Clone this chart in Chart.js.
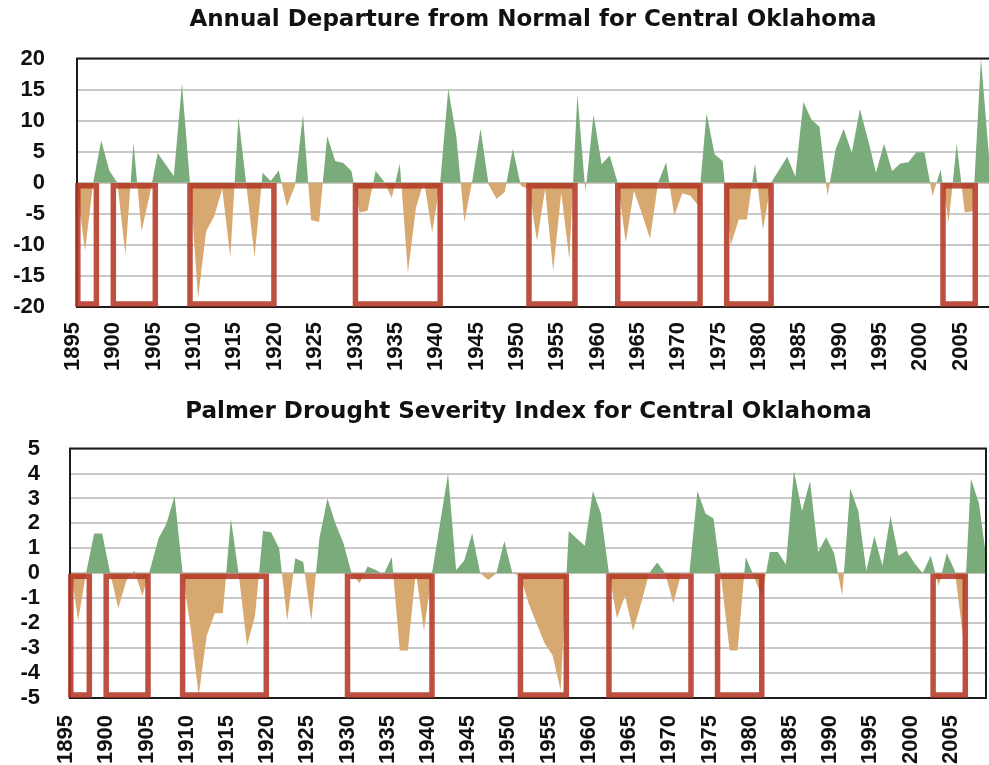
<!DOCTYPE html>
<html>
<head>
<meta charset="utf-8">
<title>Central Oklahoma: precipitation departure and PDSI</title>
<script src="https://cdn.jsdelivr.net/npm/chart.js@4.4.1/dist/chart.umd.min.js"></script>
<style>
  body { margin: 0; background: #fff; }
  canvas { position: absolute; left: 0; }
  #depChart { top: 0; }
  #pdsiChart { top: 390px; }
</style>
</head>
<body>
<canvas id="depChart" width="989" height="390"></canvas>
<canvas id="pdsiChart" width="989" height="375"></canvas>
<script>
// annual precipitation departure from normal (inches), 1895-2008
const firstYear = 1895;
const departure = [
  -1, -11, 0, 6.8, 2, 0, -11.6, 6.4, -7.8, -2,          // 1895-1904
  4.8, 2.9, 1.1, 16, 0, -18.6, -7.8, -5.4, -1, -12,     // 1905-1914
  10.6, -0.5, -12, 1.6, 0.3, 2, -3.8, -0.5, 11, -6,     // 1915-1924
  -6.3, 7.5, 3.5, 3.2, 1.9, -4.8, -4.5, 1.9, 0.3, -2.4, // 1925-1934
  3.1, -14.5, -4, 0.3, -8, 0, 15.1, 7.5, -6.3, 0.5,     // 1935-1944
  8.7, -0.3, -2.6, -1.5, 5.5, -0.5, -1, -9.4, -1, -14.2,// 1945-1954
  -1.6, -12.3, 14.2, -1.5, 11, 3, 4.4, 0, -9.6, -1.3,   // 1955-1964
  -5, -9, 0, 3.3, -5.3, -1.7, -2.1, -3.7, 11.2, 4.6,    // 1965-1974
  3.5, -10, -5.9, -5.9, 3.1, -7.5, 0, 2.1, 4.2, 1,      // 1975-1984
  13, 10.2, 9, -2.1, 5.4, 8.7, 4.8, 11.9, 7, 1.6,       // 1985-1994
  6.3, 1.9, 3.1, 3.3, 4.9, 4.9, -2.1, 2.1, -6.4, 6.3,   // 1995-2004
  -4.8, -4.6, 20, 4.2                                   // 2005-2008
];

// Palmer Drought Severity Index, 1895-2009
const pdsi = [
  0.4, -1.9, 0, 1.6, 1.6, 0, -1.4, -0.3, 0.1, -0.9,     // 1895-1904
  0.2, 1.4, 2.0, 3.1, 0, -2.2, -4.9, -2.5, -1.6, -1.6,  // 1905-1914
  2.2, -0.1, -2.9, -1.7, 1.7, 1.65, 1.0, -1.9, 0.6, 0.45, // 1915-1924
  -1.9, 1.4, 3.0, 2.0, 1.2, 0, -0.4, 0.27, 0.13, -0.05, // 1925-1934
  0.65, -3.1, -3.1, 0.07, -2.3, 0, 2.0, 4.0, 0.13, 0.5, // 1935-1944
  1.6, 0, -0.27, 0, 1.3, 0, -0.1, -1.2, -2.0, -2.8,     // 1945-1954
  -3.3, -4.7, 1.7, 1.4, 1.1, 3.3, 2.4, 0, -1.8, -0.9,   // 1955-1964
  -2.3, -1.2, 0, 0.43, 0, -1.2, 0, 0, 3.3, 2.4,         // 1965-1974
  2.2, -0.3, -3.1, -3.1, 0.65, -0.1, -0.95, 0.85, 0.85, 0.35, // 1975-1984
  4.1, 2.5, 3.7, 0.85, 1.45, 0.8, -0.9, 3.4, 2.5, 0.1,  // 1985-1994
  1.5, 0.3, 2.3, 0.7, 0.9, 0.4, 0, 0.7, -0.5, 0.8,      // 1995-2004
  0.1, -2.5, 3.8, 2.8, 0.4                              // 2005-2009
];

const yearTicks = [1895, 1900, 1905, 1910, 1915, 1920, 1925, 1930, 1935, 1940, 1945,
  1950, 1955, 1960, 1965, 1970, 1975, 1980, 1985, 1990, 1995, 2000, 2005];
const departureTicks = [-20, -15, -10, -5, 0, 5, 10, 15, 20];
const pdsiTicks = [-5, -4, -3, -2, -1, 0, 1, 2, 3, 4, 5];

// highlighted drought periods (start year, end year)
const droughts = [
  [1895.1, 1897.4], [1899.5, 1904.7], [1909, 1919.4], [1929.5, 1940],
  [1951, 1956.7], [1962, 1972.2], [1975.5, 1981], [2002.3, 2006.3]
];

const GREEN = '#7aab7a';
const TAN = '#d7a86f';
const BOX = 'rgba(180, 56, 38, 0.88)';
const FONT = '"Liberation Sans", Arial, Helvetica, sans-serif';
const TITLE_FONT = '"DejaVu Sans", "Liberation Sans", Arial, sans-serif';

// frame, drought boxes and the vertical year labels under the x scale
const overlay = {
  id: 'overlay',
  afterDatasetsDraw(chart, args, opts) {
    const { ctx, chartArea: a, scales: { x, y } } = chart;
    ctx.save();
    ctx.strokeStyle = '#1c1c1c';
    ctx.lineWidth = 2;
    ctx.beginPath();
    ctx.moveTo(a.left, a.top); ctx.lineTo(a.right, a.top);
    ctx.moveTo(a.left, a.top - 1); ctx.lineTo(a.left, a.bottom + 1);
    ctx.moveTo(a.left, a.bottom); ctx.lineTo(a.right, a.bottom);
    if (opts.rightEdge) { ctx.moveTo(a.right - 1, a.top); ctx.lineTo(a.right - 1, a.bottom); }
    ctx.stroke();

    ctx.strokeStyle = BOX;
    ctx.lineWidth = 5.5;
    const y0 = y.getPixelForValue(0) + 3;
    const y1 = y.getPixelForValue(y.min) - 3;
    droughts.forEach(([s, e]) => {
      const x0 = x.getPixelForValue(s);
      const x1 = x.getPixelForValue(e);
      ctx.strokeRect(x0, y0, x1 - x0, y1 - y0);
    });

    ctx.fillStyle = '#111';
    ctx.font = 'bold 22px ' + FONT;
    ctx.textAlign = 'right';
    ctx.textBaseline = 'middle';
    yearTicks.forEach(yr => {
      ctx.save();
      ctx.translate(x.getPixelForValue(yr) - 4, a.bottom + opts.labelGap);
      ctx.rotate(-Math.PI / 2);
      ctx.fillText(String(yr), 0, 0);
      ctx.restore();
    });
    ctx.restore();
  }
};

function drawPanel(id, cfg) {
  const points = cfg.values.map((v, i) => ({ x: firstYear + i, y: v }));
  return new Chart(document.getElementById(id), {
    type: 'line',
    data: {
      datasets: [{
        data: points,
        borderColor: 'rgba(0,0,0,0)',
        borderWidth: 0,
        pointRadius: 0,
        tension: 0,
        fill: { target: 'origin', above: GREEN, below: TAN }
      }]
    },
    options: {
      responsive: false,
      animation: false,
      devicePixelRatio: 1,
      layout: { padding: { left: 0, right: cfg.padRight, top: 0, bottom: 0 } },
      plugins: {
        legend: { display: false },
        tooltip: { enabled: false },
        overlay: { rightEdge: cfg.rightEdge, labelGap: cfg.labelGap },
        title: {
          display: true,
          fullSize: false,
          text: cfg.title,
          color: '#111',
          font: { family: TITLE_FONT, size: 23, weight: 'bold' },
          padding: { top: cfg.titleTop, bottom: cfg.titleBottom }
        }
      },
      scales: {
        x: {
          type: 'linear',
          min: firstYear,
          max: cfg.xMax,
          afterBuildTicks: s => { s.ticks = yearTicks.map(v => ({ value: v })); },
          afterFit: s => { s.height = cfg.xHeight; },
          grid: { display: false },
          border: { display: false },
          ticks: { display: false }
        },
        y: {
          min: cfg.yTicks[0],
          max: cfg.yTicks[cfg.yTicks.length - 1],
          afterBuildTicks: s => { s.ticks = cfg.yTicks.map(v => ({ value: v })); },
          afterFit: s => { s.width = cfg.yWidth; },
          grid: { color: '#c9c9c9', lineWidth: 2, drawTicks: false },
          border: { display: false },
          ticks: {
            autoSkip: false,
            padding: cfg.yPad,
            color: '#111',
            font: { family: FONT, size: 22, weight: 'bold' },
            callback: v => String(v)
          }
        }
      }
    },
    plugins: [overlay]
  });
}

drawPanel('depChart', {
  title: 'Annual Departure from Normal for Central Oklahoma',
  values: departure,
  yTicks: departureTicks,
  xMax: 2008,
  padRight: 0,
  rightEdge: false,
  titleTop: 6,
  titleBottom: 25,
  xHeight: 83,
  labelGap: 15,
  yWidth: 77,
  yPad: 32
});

drawPanel('pdsiChart', {
  title: 'Palmer Drought Severity Index for Central Oklahoma',
  values: pdsi,
  yTicks: pdsiTicks,
  xMax: 2009,
  padRight: 2,
  rightEdge: true,
  titleTop: 8,
  titleBottom: 23,
  xHeight: 67,
  labelGap: 17,
  yWidth: 70,
  yPad: 30
});
</script>
</body>
</html>
